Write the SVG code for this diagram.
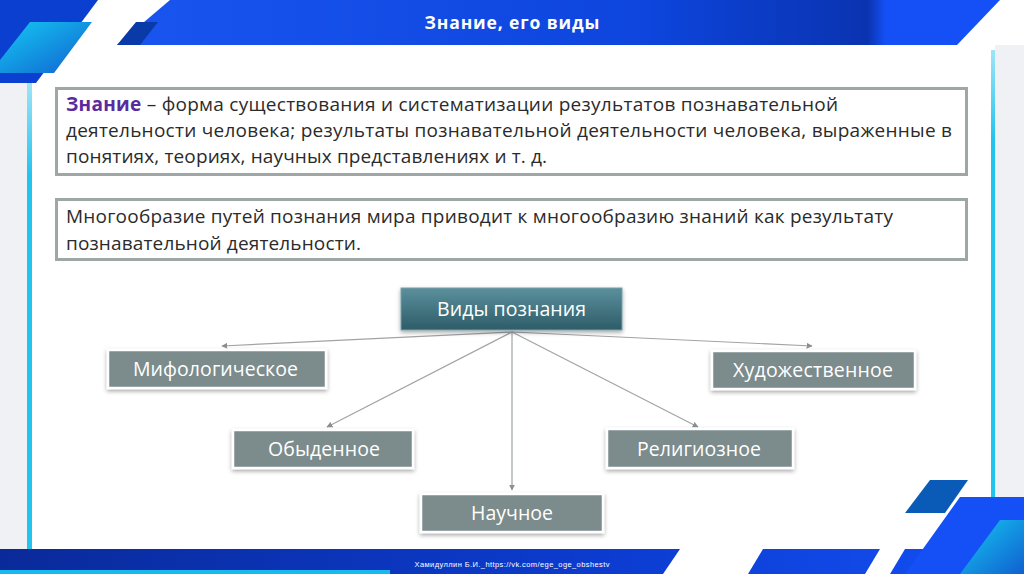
<svg xmlns="http://www.w3.org/2000/svg" width="1024" height="574" viewBox="0 0 1024 574">
<defs>
<style>
.t{font-family:"Open Sans","Noto Sans","DejaVu Sans",sans-serif;font-size:19px;fill:#2b2b2b}
.nt{font-family:"Open Sans","Noto Sans","DejaVu Sans",sans-serif;font-size:19.5px;fill:#ffffff;text-anchor:middle}
.node{fill:#7b8b8c;stroke:#ffffff;stroke-width:2.5}
.box{fill:#ffffff;stroke:#9ea6a6;stroke-width:3}
.conn{stroke:#a0a4a6;stroke-width:1.2;fill:none;marker-end:url(#ah)}
</style>
<marker id="ah" viewBox="0 0 10 10" refX="9" refY="5" markerWidth="6" markerHeight="6" orient="auto" markerUnits="userSpaceOnUse">
<path d="M0,0 L10,5 L0,10 z" fill="#8a8e90"/>
</marker>
<filter id="sh" x="-10%" y="-20%" width="120%" height="150%">
<feDropShadow dx="0" dy="2" stdDeviation="2" flood-color="#000" flood-opacity="0.35"/>
</filter>
<linearGradient id="hdr" x1="0" y1="0" x2="1" y2="0">
<stop offset="0" stop-color="#1a55f0"/>
<stop offset="0.6" stop-color="#0d45dd"/>
<stop offset="0.85" stop-color="#0a33b0"/>
<stop offset="0.87" stop-color="#1450f5"/>
<stop offset="1" stop-color="#1450f5"/>
</linearGradient>
<linearGradient id="cyan" x1="0" y1="0" x2="1" y2="1">
<stop offset="0" stop-color="#15c8f2"/>
<stop offset="1" stop-color="#1060d0"/>
</linearGradient>
<linearGradient id="ftr" x1="0" y1="0" x2="1" y2="0">
<stop offset="0" stop-color="#0a2a9a"/>
<stop offset="0.6" stop-color="#0c3cd0"/>
<stop offset="1" stop-color="#1450f5"/>
</linearGradient>
<linearGradient id="teal" x1="0" y1="0" x2="0" y2="1">
<stop offset="0" stop-color="#5a909c"/>
<stop offset="1" stop-color="#2e5c68"/>
</linearGradient>
<linearGradient id="vline" x1="0" y1="0" x2="0" y2="1">
<stop offset="0" stop-color="#9fe4f7"/>
<stop offset="0.2" stop-color="#22c3ee"/>
<stop offset="1" stop-color="#22c3ee"/>
</linearGradient>
</defs>

<!-- background -->
<rect x="0" y="0" width="1024" height="574" fill="#ffffff"/>
<rect x="0" y="83" width="28" height="466" fill="#f0f1f4"/>
<rect x="995" y="45" width="29" height="460" fill="#f0f1f4"/>
<rect x="27" y="83" width="5" height="466" fill="url(#vline)"/>
<rect x="991" y="50" width="4" height="450" fill="url(#vline)"/>

<!-- top decoration -->
<polygon points="0,0 98,0 36,83 0,83" fill="#0b3fd0"/>
<polygon points="30,22 92,22 54,73 0,73 0,60" fill="url(#cyan)"/>
<polygon points="170,0 1000,0 957,45 117,45" fill="url(#hdr)"/>
<polygon points="136,22 158,22 140,45 117,45" fill="#0a3aa8"/>
<text x="512" y="29" font-family="'Open Sans','Noto Sans','DejaVu Sans',sans-serif" font-size="17.5" font-weight="bold" fill="#ffffff" text-anchor="middle" textLength="175">Знание, его виды</text>

<!-- bottom decoration -->
<polygon points="0,549 1024,549 1024,574 0,574" fill="url(#ftr)"/>
<rect x="0" y="570" width="390" height="4" fill="#19b8ee"/>
<polygon points="680,549 763,549 748,574 663,574" fill="#ffffff"/>
<polygon points="880,549 905,549 890,574 865,574" fill="#ffffff"/>
<polygon points="960,497 1024,497 1024,574 905,574" fill="#1450f5"/>
<polygon points="1000,520 1024,520 1024,574 960,574" fill="url(#cyan)"/>
<polygon points="930,480 968,480 945,513 905,513" fill="#0a5ab8"/>
<text x="512" y="567" font-family="'Liberation Sans',Arial,sans-serif" font-size="7.5" fill="#ffffff" text-anchor="middle" textLength="195">Хамидуллин Б.И._https://vk.com/ege_oge_obshestv</text>

<!-- definition boxes -->
<g id="definition">
<rect class="box" x="56.5" y="88.5" width="910" height="86"/>
<text class="t" x="66" y="111" textLength="772"><tspan font-weight="bold" fill="#5a2a9e">Знание</tspan> – форма существования и систематизации результатов познавательной</text>
<text class="t" x="66" y="137" textLength="886">деятельности человека; результаты познавательной деятельности человека, выраженные в</text>
<text class="t" x="66" y="163" textLength="481">понятиях, теориях, научных представлениях и т. д.</text>
</g>
<g id="diversity">
<rect class="box" x="56.5" y="199.5" width="910" height="60"/>
<text class="t" x="66" y="223" textLength="827">Многообразие путей познания мира приводит к многообразию знаний как результату</text>
<text class="t" x="66" y="250" textLength="295">познавательной деятельности.</text>
</g>

<!-- connectors -->
<g id="connectors">
<line class="conn" x1="512" y1="332" x2="222" y2="346"/>
<line class="conn" x1="512" y1="332" x2="812" y2="346"/>
<line class="conn" x1="512" y1="332" x2="327" y2="427"/>
<line class="conn" x1="512" y1="332" x2="698" y2="427"/>
<line class="conn" x1="512" y1="332" x2="512" y2="490"/>
</g>

<!-- nodes -->
<g id="vidy">
<rect x="401" y="288" width="221" height="42" fill="url(#teal)" stroke="#7aa0a8" stroke-width="1" filter="url(#sh)"/>
<text class="nt" x="511.5" y="316" fill="#eef4f4" textLength="149">Виды познания</text>
</g>
<g id="mif">
<rect class="node" x="108" y="350" width="218" height="38" filter="url(#sh)"/>
<text class="nt" x="215.5" y="376" textLength="165">Мифологическое</text>
</g>
<g id="hud">
<rect class="node" x="712" y="351" width="203" height="38" filter="url(#sh)"/>
<text class="nt" x="813" y="377" textLength="160">Художественное</text>
</g>
<g id="obyd">
<rect class="node" x="233" y="430" width="180" height="38" filter="url(#sh)"/>
<text class="nt" x="324" y="456" textLength="112">Обыденное</text>
</g>
<g id="relig">
<rect class="node" x="607" y="429" width="186" height="39" filter="url(#sh)"/>
<text class="nt" x="699" y="456" textLength="124">Религиозное</text>
</g>
<g id="nauch">
<rect class="node" x="421" y="494" width="182" height="38" filter="url(#sh)"/>
<text class="nt" x="512" y="520" textLength="82">Научное</text>
</g>
</svg>
